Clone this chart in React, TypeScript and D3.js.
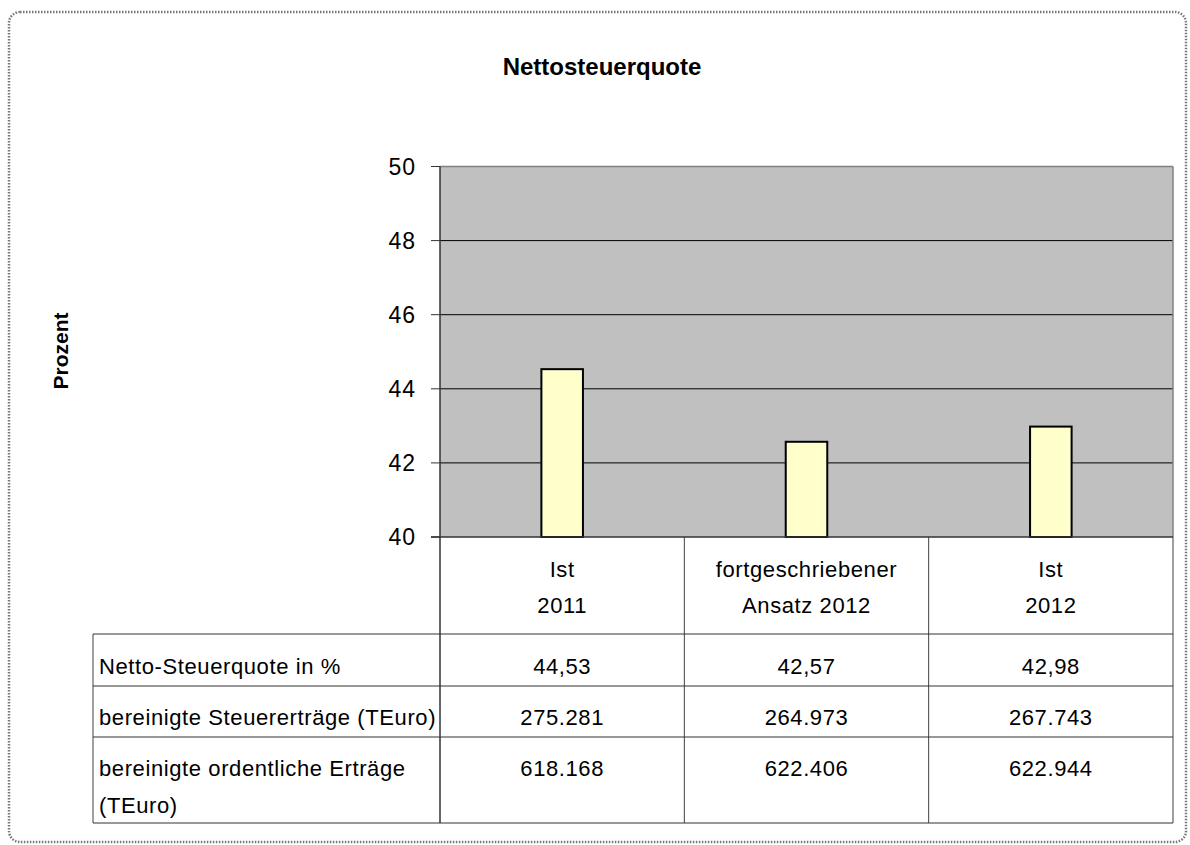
import React from 'react';
import * as d3 from 'd3';

// chart data
const categories = [['Ist', '2011'], ['fortgeschriebener', 'Ansatz 2012'], ['Ist', '2012']];
const quote = [44.53, 42.57, 42.98];
const quoteLabels = ['44,53', '42,57', '42,98'];
const steuerErtraege = ['275.281', '264.973', '267.743'];
const ordErtraege = ['618.168', '622.406', '622.944'];
const rowLabels = [['Netto-Steuerquote in %'], ['bereinigte Steuererträge (TEuro)'], ['bereinigte ordentliche Erträge', '(TEuro)']];
const yTicks = [40, 42, 44, 46, 48, 50];

const FONT = '"Liberation Sans", Arial, sans-serif';

const App = () => {
  const left = 440;
  const right = 1173;
  const top = 166.5;
  const bottom = 537;
  const tableLeft = 93;
  const rowLines = [634, 686, 737, 823];

  const keys = categories.map((c) => c.join(' '));

  const x = d3.scaleBand().domain(keys).range([left, right]).paddingInner(0.83).paddingOuter(0.415);
  const col = d3.scaleBand().domain(keys).range([left, right]).padding(0);
  const y = d3.scaleLinear().domain([40, 50]).range([bottom, top]);

  const tableRows = [quoteLabels, steuerErtraege, ordErtraege];
  const rowBaselines = [674, 725, 776];

  return (
    <svg width={1190} height={845} style={{ position: 'absolute', left: 0, top: 0 }} fontFamily={FONT}>
      <rect x={0} y={0} width={1190} height={845} fill="#fff" />
      {/* outer dotted frame */}
      <rect x={9} y={12} width={1177} height={830} rx={11} ry={11} fill="none" stroke="#777" strokeWidth={2.5} strokeDasharray="1.5 1.5" />

      <text x={602} y={75} textAnchor="middle" fontSize={24} fontWeight="bold">Nettosteuerquote</text>
      <text transform={`translate(68,351) rotate(-90)`} textAnchor="middle" fontSize={21} fontWeight="bold">Prozent</text>

      {/* plot area */}
      <rect x={left} y={top} width={right - left} height={bottom - top} fill="#c0c0c0" />
      {yTicks.slice(1, -1).map((t) => (
        <line key={t} x1={left} x2={right} y1={y(t)} y2={y(t)} stroke="#000" strokeWidth={1} />
      ))}
      <line x1={left} x2={right} y1={top} y2={top} stroke="#808080" strokeWidth={1.5} />
      <line x1={right} x2={right} y1={top} y2={bottom} stroke="#808080" strokeWidth={1.5} />

      {quote.map((v, i) => (
        <rect key={i} x={x(keys[i])} y={y(v)} width={x.bandwidth()} height={bottom - y(v)} fill="#ffffcc" stroke="#000" strokeWidth={2} />
      ))}

      {/* y axis */}
      <line x1={left} x2={left} y1={top} y2={rowLines[3]} stroke="#333" strokeWidth={1.5} />
      {yTicks.map((t) => (
        <g key={t}>
          <line x1={left - 9} x2={left} y1={y(t)} y2={y(t)} stroke="#333" strokeWidth={1} />
          <text x={416} y={y(t)} dy="0.36em" textAnchor="end" fontSize={23} letterSpacing={1}>{t}</text>
        </g>
      ))}
      <line x1={left - 9} x2={right} y1={bottom} y2={bottom} stroke="#333" strokeWidth={1.5} />

      {/* data table */}
      {keys.map((k) => (
        <line key={k} x1={col(k)! + col.bandwidth()} x2={col(k)! + col.bandwidth()} y1={bottom} y2={rowLines[3]} stroke="#404040" strokeWidth={1} />
      ))}
      <line x1={tableLeft} x2={tableLeft} y1={rowLines[0]} y2={rowLines[3]} stroke="#404040" strokeWidth={1} />
      {rowLines.map((ry) => (
        <line key={ry} x1={tableLeft} x2={right} y1={ry} y2={ry} stroke="#333" strokeWidth={1} />
      ))}

      {categories.map((c, i) => (
        <g key={i} fontSize={22} letterSpacing={0.6} textAnchor="middle">
          <text x={col(keys[i])! + col.bandwidth() / 2} y={577}>{c[0]}</text>
          <text x={col(keys[i])! + col.bandwidth() / 2} y={613}>{c[1]}</text>
        </g>
      ))}

      {rowLabels.map((lab, r) => (
        <g key={r} fontSize={22} letterSpacing={0.6}>
          {lab.map((line, j) => (
            <text key={j} x={99} y={rowBaselines[r] + j * 37}>{line}</text>
          ))}
          {tableRows[r].map((v, i) => (
            <text key={i} x={col(keys[i])! + col.bandwidth() / 2} y={rowBaselines[r]} textAnchor="middle">{v}</text>
          ))}
        </g>
      ))}
    </svg>
  );
};

export default App;
